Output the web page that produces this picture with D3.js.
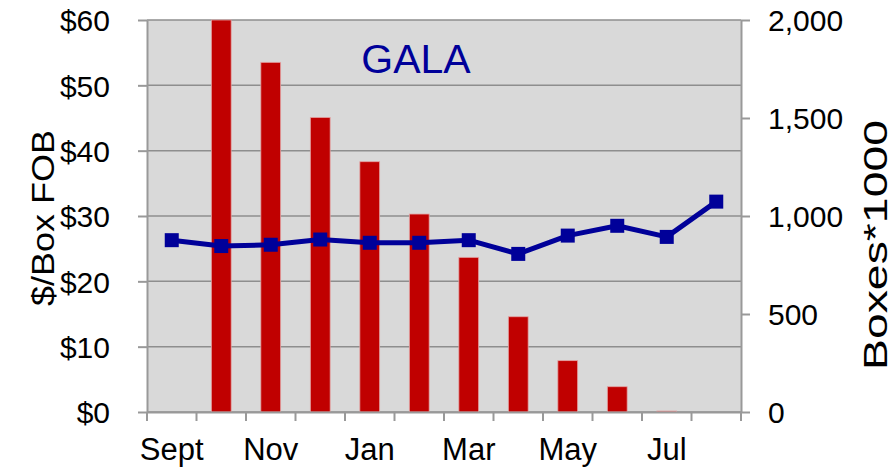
<!DOCTYPE html>
<html>
<head>
<meta charset="utf-8">
<script src="https://cdn.jsdelivr.net/npm/d3@7"></script>
<style>
  body { margin: 0; background: #fff; }
  svg { display: block; font-family: "Liberation Sans", Arial, sans-serif; }
</style>
</head>
<body>
<div id="chart"></div>
<script>
// monthly data, Gala
let months = ["Sept","Oct","Nov","Dec","Jan","Feb","Mar","Apr","May","Jun","Jul","Aug"];
let boxes = [0, 2000, 1784, 1503, 1277, 1010, 789, 486, 262, 129, 5, 0];   // Boxes*1000
let price = [26.3, 25.4, 25.6, 26.4, 25.9, 25.9, 26.3, 24.2, 27.0, 28.5, 26.8, 32.2]; // $/Box FOB
let priceTicks = [0, 10, 20, 30, 40, 50, 60];
let boxTicks = [0, 500, 1000, 1500, 2000];
let shownMonths = ["Sept","Nov","Jan","Mar","May","Jul"];

let W = 895, H = 469;
let margin = {left: 147, right: 154, top: 20, bottom: 57};
let pw = W - margin.left - margin.right;
let ph = H - margin.top - margin.bottom;

let svg = d3.select('#chart').append('svg')
    .attr('width', W).attr('height', H);

let plot = svg.append('g')
    .attr('transform', `translate(${margin.left},${margin.top})`);

let x = d3.scaleBand().domain(months).range([0, pw]).paddingInner(0).paddingOuter(0);
let yL = d3.scaleLinear().domain([0, 60]).range([ph, 0]);
let yR = d3.scaleLinear().domain([0, 2000]).range([ph, 0]);

// plot background
plot.append('rect')
    .attr('width', pw).attr('height', ph)
    .attr('fill', '#d9d9d9');

// gridlines
plot.append('g')
    .selectAll('line')
    .data(priceTicks)
    .enter()
    .append('line')
    .attr('x1', 0).attr('x2', pw)
    .attr('y1', d => yL(d)).attr('y2', d => yL(d))
    .attr('stroke', '#8e8e8e')
    .attr('stroke-width', 1.5);

// bars
let barW = x.bandwidth() * 0.4;
plot.append('g')
    .selectAll('rect')
    .data(boxes)
    .enter()
    .append('rect')
    .attr('x', (d, i) => x(months[i]) + (x.bandwidth() - barW) / 2)
    .attr('y', d => yR(d))
    .attr('width', barW)
    .attr('height', d => ph - yR(d))
    .attr('fill', '#c00000')
    .attr('stroke', d => d > 0 ? '#e3a3a3' : 'none')
    .attr('stroke-width', 0.8);

// axes
let axisColor = '#999';

let xAxis = plot.append('g')
    .attr('transform', `translate(0,${ph})`)
    .call(d3.axisBottom(x).tickSize(0).tickFormat(d => shownMonths.includes(d) ? d : ''));
xAxis.select('.domain').attr('stroke', axisColor).attr('stroke-width', 2);
xAxis.selectAll('text')
    .attr('y', 48).attr('dy', 0)
    .attr('font-size', 31).attr('fill', '#000')
    .attr('font-family', '"Liberation Sans", Arial, sans-serif');

// tick marks at category boundaries
plot.append('g')
    .selectAll('line')
    .data(d3.range(months.length + 1))
    .enter()
    .append('line')
    .attr('x1', i => i * x.bandwidth()).attr('x2', i => i * x.bandwidth())
    .attr('y1', ph).attr('y2', ph + 9)
    .attr('stroke', axisColor).attr('stroke-width', 2);

let leftAxis = plot.append('g')
    .call(d3.axisLeft(yL).tickValues(priceTicks).tickSize(9).tickSizeOuter(0)
        .tickFormat(d => '$' + d));
leftAxis.select('.domain').attr('stroke', axisColor).attr('stroke-width', 2);
leftAxis.selectAll('.tick line').attr('stroke', axisColor).attr('stroke-width', 2);
leftAxis.selectAll('text')
    .attr('x', -37).attr('dy', '0.36em')
    .attr('font-size', 30).attr('fill', '#000')
    .attr('font-family', '"Liberation Sans", Arial, sans-serif');

let rightAxis = plot.append('g')
    .attr('transform', `translate(${pw},0)`)
    .call(d3.axisRight(yR).tickValues(boxTicks).tickSize(9).tickSizeOuter(0)
        .tickFormat(d3.format(',')));
rightAxis.select('.domain').attr('stroke', axisColor).attr('stroke-width', 2);
rightAxis.selectAll('.tick line').attr('stroke', axisColor).attr('stroke-width', 2);
rightAxis.selectAll('text')
    .attr('x', 27).attr('dy', '0.36em')
    .attr('font-size', 30).attr('fill', '#000')
    .attr('font-family', '"Liberation Sans", Arial, sans-serif');

// price line
let line = d3.line()
    .x((d, i) => x(months[i]) + x.bandwidth() / 2)
    .y(d => yL(d));

plot.append('path')
    .datum(price)
    .attr('d', line)
    .attr('fill', 'none')
    .attr('stroke', '#000099')
    .attr('stroke-width', 5)
    .attr('stroke-linejoin', 'round');

let mk = 14;
plot.append('g')
    .selectAll('rect')
    .data(price)
    .enter()
    .append('rect')
    .attr('x', (d, i) => x(months[i]) + x.bandwidth() / 2 - mk / 2)
    .attr('y', d => yL(d) - mk / 2)
    .attr('width', mk).attr('height', mk)
    .attr('fill', '#000099');

// title
svg.append('text')
    .attr('x', 416).attr('y', 73)
    .attr('text-anchor', 'middle')
    .attr('font-size', 41)
    .attr('fill', '#000099')
    .text('GALA');

// axis titles
svg.append('text')
    .attr('transform', 'translate(54,218) rotate(-90)')
    .attr('text-anchor', 'middle')
    .attr('font-size', 32)
    .attr('textLength', 176)
    .attr('lengthAdjust', 'spacingAndGlyphs')
    .text('$/Box FOB');

svg.append('text')
    .attr('transform', 'translate(887,245) rotate(-90)')
    .attr('text-anchor', 'middle')
    .attr('font-size', 33)
    .attr('textLength', 250)
    .attr('lengthAdjust', 'spacingAndGlyphs')
    .text('Boxes*1000');
</script>
</body>
</html>
